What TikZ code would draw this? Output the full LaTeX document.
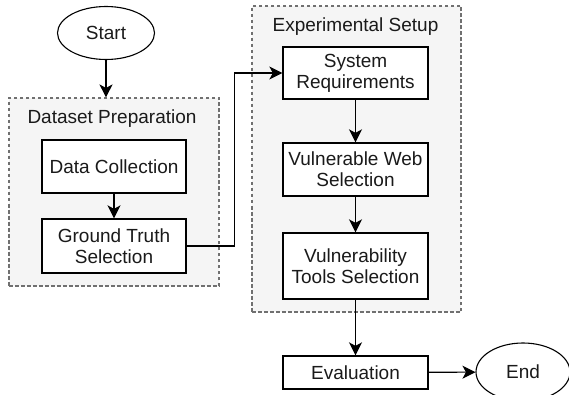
\documentclass[tikz,border=0pt]{standalone}
\usepackage{fontspec}
\setmainfont{Liberation Sans}
\usetikzlibrary{shapes.geometric,arrows.meta}
\definecolor{grpfill}{HTML}{F5F5F5}
\definecolor{grpline}{HTML}{707070}
\definecolor{txt}{HTML}{1A1A1A}
\tikzset{
  procbox/.style={draw=black, line width=1.3pt, fill=white, rectangle, minimum width=145pt, align=center, text=txt, font=\fontsize{19}{21}\selectfont, inner sep=0pt},
  term/.style={draw=black, line width=1.1pt, fill=white, ellipse, text=txt, font=\fontsize{19}{21}\selectfont, inner sep=0pt},
  group/.style={draw=grpline, dashed, dash pattern=on 3.5pt off 2.5pt, line width=1.1pt, fill=grpfill, rectangle, inner sep=0pt},
  grptitle/.style={text=txt, font=\fontsize{19}{21}\selectfont, inner sep=0pt},
  flow/.style={line width=1.4pt, -{Stealth[length=13pt,width=13pt,inset=3.5pt]}},
}
\begin{document}
\begin{tikzpicture}[x=1pt,y=-1pt]
\useasboundingbox (0,0) rectangle (569,395);
% groups
\node[group, minimum width=210pt, minimum height=188pt] (dsbox) at (114,192) {};
\node[group, minimum width=209pt, minimum height=306pt] (esbox) at (356.5,159) {};
\node[grptitle] (dstitle) at (112,119) {Dataset Preparation};
\node[grptitle] (estitle) at (355.5,27) {Experimental Setup};
% terminals
\node[term, minimum width=97pt, minimum height=53pt] (start) at (106,33) {Start};
\node[term, minimum width=94pt, minimum height=58pt] (end) at (523,372) {End};
% process boxes
\node[procbox, minimum width=144pt, minimum height=53pt] (dc) at (114,166.5) {Data Collection};
\node[procbox, minimum width=144pt, minimum height=54pt] (gt) at (114,246) {Ground Truth\\Selection};
\node[procbox, minimum height=52pt] (sr) at (355.5,73) {System\\Requirements};
\node[procbox, minimum height=53pt] (vw) at (355.5,169.5) {Vulnerable Web\\Selection};
\node[procbox, minimum height=66pt] (vt) at (355.5,266) {Vulnerability\\Tools Selection};
\node[procbox, minimum height=33pt] (ev) at (355.5,372.5) {Evaluation};
% connectors
\draw[flow] (start.south) -- (start.south |- dsbox.north);
\draw[flow] (dc) -- (gt);
\draw[flow, line width=1.1pt] (gt.east) -- ++(48,0) |- (sr.west);
\draw[flow] (sr) -- (vw);
\draw[flow] (vw) -- (vt);
\draw[flow] (vt) -- (ev);
\draw[flow, line width=1.1pt] (ev) -- (end);
\end{tikzpicture}
\end{document}
